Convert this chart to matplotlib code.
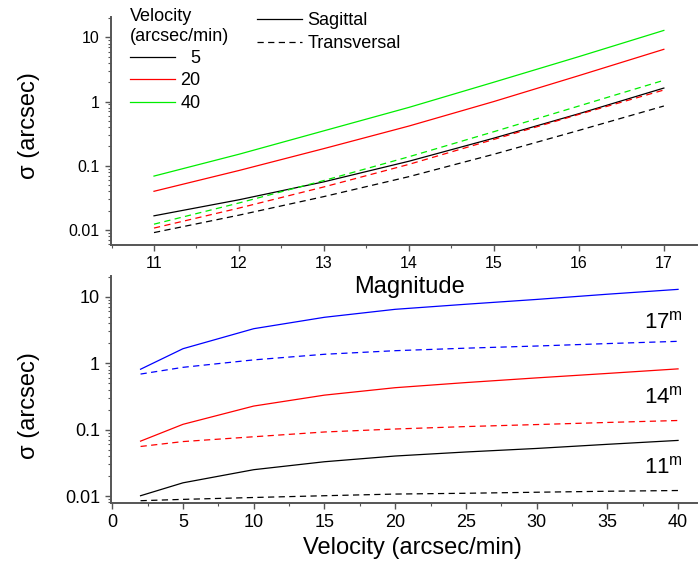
import matplotlib
matplotlib.use("Agg")
import matplotlib.pyplot as plt
from matplotlib.lines import Line2D
from matplotlib.ticker import LogLocator, MultipleLocator, NullFormatter, FixedLocator, FixedFormatter

plt.rcParams['font.family'] = ['Liberation Sans', 'DejaVu Sans']
plt.rcParams['mathtext.fontset'] = 'custom'
plt.rcParams['mathtext.rm'] = 'Liberation Sans'
plt.rcParams['mathtext.it'] = 'Liberation Sans:italic'

# ---- top panel data: sigma vs magnitude ----
magnitude = [11, 12, 13, 14, 15, 16, 17]
sag_v5 = [0.0166, 0.0295, 0.0562, 0.1175, 0.269, 0.646, 1.62]
sag_v20 = [0.040, 0.0843, 0.185, 0.415, 1.0, 2.53, 6.5]
sag_v40 = [0.069, 0.151, 0.35, 0.81, 2.0, 5.0, 12.8]
tra_v5 = [0.0091, 0.017, 0.0331, 0.0676, 0.151, 0.355, 0.851]
tra_v20 = [0.0107, 0.0219, 0.0468, 0.105, 0.257, 0.63, 1.51]
tra_v40 = [0.0123, 0.0263, 0.0589, 0.138, 0.339, 0.851, 2.14]
velocity_labels = ['  5', '20', '40']

# ---- bottom panel data: sigma vs velocity ----
velocity = [2, 5, 10, 15, 20, 25, 30, 35, 40]
sag_m17 = [0.81, 1.65, 3.3, 4.9, 6.46, 7.7, 9.1, 10.9, 12.9]
tra_m17 = [0.685, 0.865, 1.12, 1.36, 1.54, 1.68, 1.81, 1.97, 2.13]
sag_m14 = [0.067, 0.12, 0.226, 0.33, 0.427, 0.51, 0.60, 0.70, 0.82]
tra_m14 = [0.0557, 0.066, 0.078, 0.092, 0.102, 0.111, 0.119, 0.128, 0.137]
sag_m11 = [0.0101, 0.0158, 0.0249, 0.0328, 0.040, 0.046, 0.052, 0.060, 0.0687]
tra_m11 = [0.0085, 0.0089, 0.0095, 0.0101, 0.0107, 0.0110, 0.0114, 0.0118, 0.0121]
mag_labels = ['17', '14', '11']

GREEN = '#00ee00'
RED = '#ff0000'
BLUE = '#0000ff'
BLACK = '#000000'
SPINE = '#555555'
DASH = (0, (5, 3.5))
LW = 0.9

W, H = 698, 569
fig = plt.figure(figsize=(W / 100, H / 100), dpi=100)
ax1 = fig.add_axes([111 / W, 1 - 245 / H, 586 / W, 228 / H])
ax2 = fig.add_axes([111 / W, 1 - 503 / H, 586 / W, 227 / H])
ax2.patch.set_alpha(0)


def style(ax, fs):
    for s in ('top', 'right'):
        ax.spines[s].set_visible(False)
    for s in ('left', 'bottom'):
        ax.spines[s].set_color(SPINE)
        ax.spines[s].set_linewidth(1.4)
    ax.set_yscale('log')
    ax.yaxis.set_major_locator(FixedLocator([0.01, 0.1, 1, 10]))
    ax.yaxis.set_major_formatter(FixedFormatter(['0.01', '0.1', '1', '10']))
    ax.yaxis.set_minor_locator(LogLocator(base=10, subs=range(2, 10), numticks=20))
    ax.yaxis.set_minor_formatter(NullFormatter())
    ax.tick_params(which='major', direction='out', length=4, width=1.0, color=SPINE,
                   labelsize=fs, pad=4)
    ax.tick_params(which='minor', direction='out', length=2.5, width=0.8, color=SPINE)


# top panel
style(ax1, 11.5)
ax1.plot(magnitude, sag_v5, color=BLACK, lw=LW)
ax1.plot(magnitude, sag_v20, color=RED, lw=LW)
ax1.plot(magnitude, sag_v40, color=GREEN, lw=LW)
ax1.plot(magnitude, tra_v5, color=BLACK, lw=LW, ls=DASH)
ax1.plot(magnitude, tra_v20, color=RED, lw=LW, ls=DASH)
ax1.plot(magnitude, tra_v40, color=GREEN, lw=LW, ls=DASH)
ax1.set_xlim(10.494, 17.39)
ax1.set_ylim(0.00583, 20.7)
ax1.xaxis.set_major_locator(MultipleLocator(1))
ax1.xaxis.set_minor_locator(MultipleLocator(0.5))
ax1.set_ylabel('σ (arcsec)', fontsize=17)
ax1.yaxis.set_label_coords(-0.122, 0.526)
ax1.set_xlabel('Magnitude', fontsize=17)
ax1.xaxis.set_label_coords(0.51, -0.135)

h1 = [Line2D([], [], color=c, lw=LW) for c in (BLACK, RED, GREEN)]
leg1 = ax1.legend(h1, velocity_labels, title='Velocity\n(arcsec/min)', loc='upper left',
                  bbox_to_anchor=(130 / W, 1 - 8 / H), bbox_transform=fig.transFigure,
                  frameon=False, fontsize=13, title_fontsize=13, handlelength=2.5,
                  handletextpad=0.3, labelspacing=0.3, borderpad=0, borderaxespad=0,
                  alignment='left')
ax1.add_artist(leg1)
h2 = [Line2D([], [], color=BLACK, lw=LW), Line2D([], [], color=BLACK, lw=LW, ls=DASH)]
ax1.legend(h2, ['Sagittal', 'Transversal'], loc='upper left',
           bbox_to_anchor=(257 / W, 1 - 12 / H), bbox_transform=fig.transFigure,
           frameon=False, fontsize=13, handlelength=2.5, handletextpad=0.3,
           labelspacing=0.33, borderpad=0, borderaxespad=0)

# bottom panel
style(ax2, 13)
ax2.plot(velocity, sag_m17, color=BLUE, lw=LW)
ax2.plot(velocity, tra_m17, color=BLUE, lw=LW, ls=DASH)
ax2.plot(velocity, sag_m14, color=RED, lw=LW)
ax2.plot(velocity, tra_m14, color=RED, lw=LW, ls=DASH)
ax2.plot(velocity, sag_m11, color=BLACK, lw=LW)
ax2.plot(velocity, tra_m11, color=BLACK, lw=LW, ls=DASH)
ax2.set_xlim(-0.09, 41.34)
ax2.set_ylim(0.00785, 20.5)
ax2.xaxis.set_major_locator(MultipleLocator(5))
ax2.xaxis.set_minor_locator(MultipleLocator(2.5))
ax2.set_ylabel('σ (arcsec)', fontsize=17)
ax2.yaxis.set_label_coords(-0.122, 0.43)
ax2.set_xlabel('Velocity (arcsec/min)', fontsize=17)
ax2.xaxis.set_label_coords(0.514, -0.15)

for lab, ypx in zip(mag_labels, (322, 397, 467)):
    fig.text(683 / W, 1 - ypx / H, lab + r'$^{\mathrm{m}}$', fontsize=16,
             ha='right', va='center')

fig.savefig('out.png', dpi=100)
